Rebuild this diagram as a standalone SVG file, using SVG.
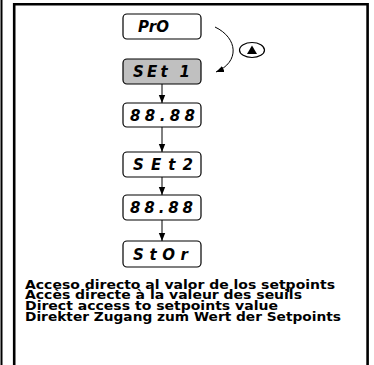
<svg xmlns="http://www.w3.org/2000/svg" width="374" height="365" viewBox="0 0 374 365">
<style>
.box{fill:#fff;stroke:#000;stroke-width:1.2}
.sel{fill:#c0c0c0}
.seg{font-family:"DejaVu Sans",sans-serif;font-style:italic;font-weight:bold;font-size:15px;fill:#000}
.cap{font-family:"DejaVu Sans","Liberation Sans",sans-serif;font-weight:bold;font-size:12px;fill:#000}
.con{stroke:#000;stroke-width:1;fill:none}
</style>
<defs>
<marker id="ah" viewBox="0 0 8 8" refX="8" refY="4" markerWidth="8" markerHeight="8" markerUnits="userSpaceOnUse" orient="auto">
<path d="M0,0.8 L8,4 L0,7.2 Z" fill="#000"/>
</marker>
</defs>
<rect width="374" height="365" fill="#fff"/>
<g id="frame">
<line x1="1.5" y1="0" x2="1.5" y2="365" stroke="#000" stroke-width="2"/>
<path d="M14.2,365 V4.2 H367.6 V365" fill="none" stroke="#000" stroke-width="2.6"/>
</g>
<g id="connectors">
<line class="con" x1="162" y1="84" x2="162" y2="103" marker-end="url(#ah)"/>
<line class="con" x1="162" y1="127" x2="162" y2="152" marker-end="url(#ah)"/>
<line class="con" x1="162" y1="177" x2="162" y2="195" marker-end="url(#ah)"/>
<line class="con" x1="162" y1="220" x2="162" y2="241" marker-end="url(#ah)"/>
<path class="con" d="M215,27 C238,38 240,62 216,72" marker-end="url(#ah)"/>
</g>
<g id="button">
<ellipse cx="252" cy="50" rx="12.5" ry="7.5" fill="#fff" stroke="#000" stroke-width="1.2"/>
<path d="M247,54 L257,54 L252,45.5 Z" fill="#000"/>
</g>
<g id="n-pro">
<rect class="box" x="123" y="14" width="78" height="25" rx="4"/>
<text class="seg" x="138" y="31.5" textLength="31" lengthAdjust="spacing">PrO</text>
</g>
<g id="n-set1">
<rect class="box sel" x="123" y="59" width="78" height="25" rx="4"/>
<text class="seg" x="133" y="76.5" textLength="57" lengthAdjust="spacing">SEt 1</text>
</g>
<g id="n-val1">
<rect class="box" x="123" y="103" width="78" height="24" rx="4"/>
<text class="seg" x="130" y="120.5" textLength="65" lengthAdjust="spacing">88.88</text>
</g>
<g id="n-set2">
<rect class="box" x="123" y="152" width="78" height="25" rx="4"/>
<text class="seg" x="133" y="169.5" textLength="60" lengthAdjust="spacing">SEt2</text>
</g>
<g id="n-val2">
<rect class="box" x="123" y="195" width="78" height="25" rx="4"/>
<text class="seg" x="130" y="212.5" textLength="63" lengthAdjust="spacing">88.88</text>
</g>
<g id="n-stor">
<rect class="box" x="123" y="241" width="78" height="26" rx="4"/>
<text class="seg" x="133" y="259.5" textLength="55" lengthAdjust="spacing">StOr</text>
</g>
<g id="caption">
<text class="cap" x="25" y="288.5" textLength="310" lengthAdjust="spacingAndGlyphs">Acceso directo al valor de los setpoints</text>
<text class="cap" x="25" y="299.2" textLength="277" lengthAdjust="spacingAndGlyphs">Accès directe à la valeur des seuils</text>
<text class="cap" x="25" y="309.9" textLength="253" lengthAdjust="spacingAndGlyphs">Direct access to setpoints value</text>
<text class="cap" x="25" y="320.6" textLength="316" lengthAdjust="spacingAndGlyphs">Direkter Zugang zum Wert der Setpoints</text>
</g>
</svg>
